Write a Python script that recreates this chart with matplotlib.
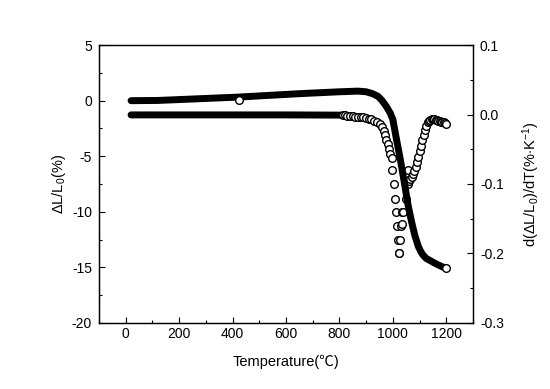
import matplotlib
matplotlib.use("Agg")
import matplotlib.pyplot as plt
from matplotlib.ticker import MultipleLocator, FormatStrFormatter

plt.rcParams["font.family"] = ["Liberation Sans", "Noto Sans CJK SC", "DejaVu Sans"]
plt.rcParams["mathtext.fontset"] = "custom"
plt.rcParams["mathtext.rm"] = "Liberation Sans"
plt.rcParams["mathtext.it"] = "Liberation Sans"
plt.rcParams["axes.unicode_minus"] = False

# dilatation curve (left axis, %)
temp_dl = [20, 120, 200, 280, 420, 650, 800, 870, 900, 925, 945, 960, 975,
           990, 1000, 1013, 1028, 1041, 1057, 1070, 1082, 1095, 1105, 1113, 1125,
           1140, 1163, 1180, 1200]
dl = [0.0, 0.02, 0.1, 0.18, 0.32, 0.63, 0.8, 0.86, 0.8, 0.62, 0.38, 0.0, -0.5,
      -1.1, -1.7, -3.4, -5.3, -7.1, -9.4, -10.9, -12.1, -13.1, -13.6, -13.9,
      -14.2, -14.4, -14.7, -14.9, -15.1]
temp_dl_odd = [423]
dl_odd = [0.1]

# derivative curve (right axis, %/K)
temp_rate_flat = [20, 100, 200, 400, 600, 800, 830]
rate_flat = [-0.0005, -0.0005, -0.0005, -0.0005, -0.0005, -0.0008, -0.0012]
temp_rate_down = [815, 820, 830, 840, 850, 860, 870, 880, 890, 900, 910, 920, 930,
                  940, 950, 958, 965, 970, 975, 980, 985, 990]
rate_down = [-0.001, -0.001, -0.0015, -0.002, -0.002, -0.003, -0.003, -0.004, -0.004,
             -0.005, -0.006, -0.007, -0.009, -0.011, -0.014, -0.018, -0.024, -0.029,
             -0.036, -0.043, -0.050, -0.057]
temp_rate_sparse = [995, 998, 1003, 1007, 1010, 1014, 1019, 1022, 1024, 1027, 1031,
                    1034, 1035, 1038, 1048, 1058, 1058]
rate_sparse = [-0.062, -0.080, -0.100, -0.121, -0.141, -0.161, -0.181, -0.199, -0.200,
               -0.181, -0.160, -0.158, -0.140, -0.140, -0.122, -0.100, -0.080]
temp_rate_up = [1055, 1060, 1065, 1070, 1075, 1080, 1085, 1090, 1095, 1100, 1105,
                1110, 1115, 1120, 1125, 1130, 1135, 1140, 1145, 1150, 1155, 1160,
                1165, 1170, 1175, 1180, 1185, 1190, 1195, 1200]
rate_up = [-0.096, -0.095, -0.093, -0.090, -0.086, -0.081, -0.075, -0.068, -0.061,
           -0.053, -0.045, -0.037, -0.029, -0.022, -0.016, -0.011, -0.009, -0.008,
           -0.007, -0.007, -0.007, -0.008, -0.008, -0.009, -0.009, -0.010, -0.010,
           -0.011, -0.012, -0.013]

fig = plt.figure(figsize=(5.5, 3.89), dpi=100)
ax = fig.add_axes([0.18, 0.17, 0.68, 0.714])
ax2 = ax.twinx()

mk = dict(marker="o", linestyle="none", ms=5.5, mfc="white", mec="black", mew=1.0)

# derivative curve
ax2.plot(temp_rate_flat, rate_flat, color="black", lw=5, solid_capstyle="round")
ax2.plot(temp_rate_down, rate_down, **mk)
ax2.plot(temp_rate_sparse, rate_sparse, **mk)
ax2.plot(temp_rate_up, rate_up, **mk)

# dilatation curve (on top)
ax.plot(temp_dl, dl, color="black", lw=5, solid_capstyle="round")
ax.plot(temp_dl_odd, dl_odd, **mk)
ax.plot(temp_dl[-1:], dl[-1:], **mk)
ax.set_zorder(ax2.get_zorder() + 1)
ax.patch.set_visible(False)

ax.set_xlim(-100, 1300)
ax.set_ylim(-20, 5)
ax2.set_ylim(-0.3, 0.1)

ax.xaxis.set_major_locator(MultipleLocator(200))
ax.xaxis.set_minor_locator(MultipleLocator(100))
ax.yaxis.set_major_locator(MultipleLocator(5))
ax.yaxis.set_minor_locator(MultipleLocator(2.5))
ax2.yaxis.set_major_locator(MultipleLocator(0.1))
ax2.yaxis.set_minor_locator(MultipleLocator(0.05))
ax2.yaxis.set_major_formatter(FormatStrFormatter("%.1f"))

ax.tick_params(axis="both", which="both", direction="in", top=False, right=False,
               labelsize=10)
ax.tick_params(axis="both", which="major", length=4, width=0.8)
ax.tick_params(axis="both", which="minor", length=2.5, width=0.8)
ax.tick_params(axis="x", pad=3)
ax.tick_params(axis="y", pad=5)
ax2.tick_params(axis="y", which="both", direction="in", labelsize=10, pad=5)
ax2.tick_params(axis="y", which="major", length=4, width=0.8)
ax2.tick_params(axis="y", which="minor", length=2.5, width=0.8)

for a in (ax, ax2):
    for s in a.spines.values():
        s.set_linewidth(0.9)

ax.set_xlabel("Temperature(℃)", fontsize=10.5, labelpad=10)
ax.set_ylabel(r"$\Delta$L/L$_0$(%)", fontsize=10.5, labelpad=3)
ax2.set_ylabel(r"d($\Delta$L/L$_0$)/dT(%$\cdot$K$^{-1}$)", fontsize=10.5, labelpad=12)

fig.savefig("out.png", dpi=100)
